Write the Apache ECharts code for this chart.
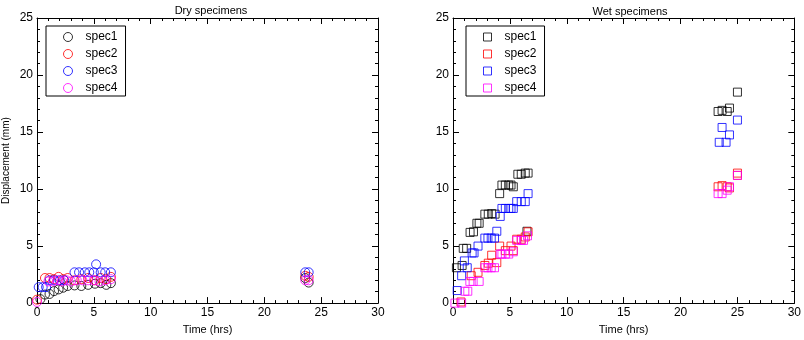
<!DOCTYPE html>
<html>
<head>
<meta charset="utf-8">
<script src="https://cdn.jsdelivr.net/npm/echarts@6/dist/echarts.min.js"></script>
<style>html,body{margin:0;padding:0;background:#fff}#c{width:804px;height:340px}</style>
</head>
<body>
<div id="c"></div>
<script>
// Dry specimens: time (hrs) and displacement (mm) per specimen
const dryT1 = [0.3, 0.7, 1.1, 1.5, 1.9, 2.3, 2.7, 3.3, 3.9, 4.5, 5.1, 5.6, 6.1, 6.5, 23.6, 23.9];
const dryV1 = [0.35, 0.75, 0.8, 1.05, 1.2, 1.35, 1.5, 1.55, 1.5, 1.6, 1.7, 1.75, 1.6, 1.75, 2.2, 1.8];
const dryT2 = [0.0, 0.7, 1.1, 1.5, 1.9, 2.3, 2.7, 3.3, 3.9, 4.5, 5.1, 5.6, 6.1, 6.5, 23.6, 23.9];
const dryV2 = [0.3, 2.2, 2.2, 2.1, 2.3, 2.1, 2.2, 2.0, 2.1, 2.2, 2.0, 2.2, 2.1, 2.3, 2.4, 2.3];
const dryT3 = [0.15, 0.5, 0.8, 1.1, 1.5, 2.0, 2.4, 3.3, 3.7, 4.2, 4.6, 5.0, 5.2, 5.6, 6.0, 6.5, 23.6, 23.9];
const dryV3 = [1.4, 1.4, 1.4, 2.0, 2.0, 2.0, 2.0, 2.7, 2.7, 2.7, 2.7, 2.7, 3.4, 2.7, 2.7, 2.7, 2.7, 2.7];
const dryT4 = [0.0, 1.0, 1.4, 1.8, 2.2, 2.6, 3.0, 3.5, 4.0, 4.5, 5.0, 5.5, 6.0, 6.5, 23.6, 23.9];
const dryV4 = [0.1, 1.9, 1.9, 2.0, 1.9, 2.0, 1.9, 2.0, 2.0, 2.0, 2.0, 1.9, 2.0, 2.1, 2.0, 2.0];

// Wet specimens
const wetT1 = [0.3, 0.8, 0.9, 1.2, 1.5, 1.8, 2.1, 2.3, 2.8, 3.1, 3.4, 3.7, 4.1, 4.3, 4.6, 4.9, 5.1, 5.3, 5.7, 6.0, 6.35, 6.6, 6.5, 23.3, 23.65, 24.1, 24.3, 25.0];
const wetV1 = [3.1, 3.3, 4.8, 4.8, 6.2, 6.25, 7.0, 7.0, 7.8, 7.8, 7.85, 7.8, 9.6, 10.35, 10.35, 10.35, 10.35, 10.2, 11.3, 11.3, 11.4, 11.4, 6.3, 16.8, 16.9, 16.8, 17.1, 18.5];
const wetT2 = [0.7, 1.6, 2.2, 2.8, 3.1, 3.4, 3.85, 4.1, 4.6, 5.1, 5.3, 5.6, 6.0, 6.35, 6.6, 23.3, 23.65, 24.1, 24.3, 25.0, 25.0];
const wetV2 = [0.1, 2.4, 2.7, 3.3, 3.5, 4.2, 3.55, 5.0, 4.6, 5.0, 4.6, 5.6, 5.6, 5.8, 6.25, 10.2, 10.3, 10.2, 10.1, 11.4, 11.2];
const wetT3 = [0.37, 0.76, 1.0, 1.25, 1.68, 1.85, 2.2, 2.8, 3.07, 3.36, 3.65, 3.85, 4.15, 4.3, 4.6, 4.9, 5.1, 5.3, 5.6, 6.0, 6.35, 6.6, 23.4, 23.65, 24.0, 24.3, 25.0];
const wetV3 = [1.1, 2.4, 3.7, 3.1, 4.4, 4.4, 5.0, 5.7, 5.7, 5.7, 5.7, 6.3, 7.6, 8.3, 8.3, 8.3, 8.3, 8.3, 8.9, 8.9, 8.9, 9.6, 14.1, 15.4, 14.1, 14.75, 16.05];
const wetT4 = [0.17, 0.76, 1.04, 1.3, 1.48, 1.77, 2.3, 2.8, 3.07, 3.36, 3.65, 4.15, 4.3, 4.6, 4.9, 5.3, 5.6, 6.0, 6.2, 6.55, 23.3, 23.65, 24.1, 24.3, 25.0];
const wetV4 = [0.0, 0.0, 1.04, 1.04, 1.9, 1.9, 1.9, 3.1, 3.1, 3.1, 3.1, 4.3, 4.3, 4.3, 4.3, 4.5, 5.5, 5.5, 5.5, 5.9, 9.6, 9.6, 9.9, 10.2, 11.2];

const names = ['spec1', 'spec2', 'spec3', 'spec4'];
const colors = ['#000000', '#ff0000', '#0000ff', '#ff00ff'];
const xTicks = [0, 5, 10, 15, 20, 25, 30];
const yTicks = [0, 5, 10, 15, 20, 25];

const dryT = [dryT1, dryT2, dryT3, dryT4];
const dryV = [dryV1, dryV2, dryV3, dryV4];
const wetT = [wetT1, wetT2, wetT3, wetT4];
const wetV = [wetV1, wetV2, wetV3, wetV4];

const FONT = 'Liberation Sans';
const pairs = (t, v) => t.map((x, i) => [x, v[i]]);

function xAx(gi, pos, show) {
  return {
    gridIndex: gi, type: 'value', position: pos,
    min: xTicks[0], max: xTicks[xTicks.length - 1], interval: 5,
    name: show ? 'Time (hrs)' : '', nameLocation: 'middle', nameGap: 18,
    nameTextStyle: { color: '#000', fontSize: 11, fontFamily: FONT },
    axisLine: { show: true, onZero: false, lineStyle: { color: '#000', width: 1 } },
    axisTick: { show: true, inside: true, length: 6, lineStyle: { color: '#000' } },
    minorTick: { show: true, splitNumber: 5, length: 3, lineStyle: { color: '#000' } },
    axisLabel: { show: show, color: '#000', fontSize: 12, fontFamily: FONT, margin: 4 },
    splitLine: { show: false }
  };
}
function yAx(gi, pos, show, named) {
  return {
    gridIndex: gi, type: 'value', position: pos,
    min: yTicks[0], max: yTicks[yTicks.length - 1], interval: 5,
    name: named ? 'Displacement (mm)' : '', nameLocation: 'middle', nameGap: 26,
    nameTextStyle: { color: '#000', fontSize: 10, fontFamily: FONT },
    axisLine: { show: true, onZero: false, lineStyle: { color: '#000', width: 1 } },
    axisTick: { show: true, inside: true, length: 6, lineStyle: { color: '#000' } },
    minorTick: { show: true, splitNumber: 5, length: 3, lineStyle: { color: '#000' } },
    axisLabel: { show: show, color: '#000', fontSize: 12, fontFamily: FONT, margin: 4 },
    splitLine: { show: false }
  };
}

const series = [];
for (let k = 0; k < 4; k++) {
  series.push({
    name: names[k], type: 'scatter', xAxisIndex: 0, yAxisIndex: 0,
    symbol: 'circle', symbolSize: 9,
    itemStyle: { color: 'rgba(0,0,0,0)', borderColor: colors[k], borderWidth: 1 },
    data: pairs(dryT[k], dryV[k]), animation: false
  });
}
for (let k = 0; k < 4; k++) {
  series.push({
    name: 'w' + names[k], type: 'scatter', xAxisIndex: 2, yAxisIndex: 2,
    symbol: 'rect', symbolSize: 8,
    itemStyle: { color: 'rgba(0,0,0,0)', borderColor: colors[k], borderWidth: 1 },
    data: pairs(wetT[k], wetV[k]), animation: false
  });
}

function legend(left, prefix, icon, size) {
  return {
    left: left, top: 26, orient: 'vertical',
    data: names.map((n, k) => ({
      name: prefix + n, icon: icon,
      itemStyle: { color: 'rgba(0,0,0,0)', borderColor: colors[k], borderWidth: 1 }
    })),
    formatter: n => n.replace(/^w/, ''),
    itemWidth: size, itemHeight: size, itemGap: 5,
    padding: [5, 8, 2, 17],
    borderColor: '#000', borderWidth: 1,
    textStyle: { color: '#000', fontSize: 12, fontFamily: FONT, padding: [0, 0, 0, 8] },
    selectedMode: false
  };
}

const chart = echarts.init(document.getElementById('c'), null, { renderer: 'canvas' });
chart.setOption({
  animation: false,
  backgroundColor: '#fff',
  title: [
    { text: 'Dry specimens', left: 206, top: 0, textAlign: 'center',
      textStyle: { fontSize: 11, fontWeight: 'normal', color: '#000', fontFamily: FONT } },
    { text: 'Wet specimens', left: 625, top: 1, textAlign: 'center',
      textStyle: { fontSize: 11, fontWeight: 'normal', color: '#000', fontFamily: FONT } }
  ],
  grid: [
    { left: 34, top: 18, width: 344, height: 288 },
    { left: 453, top: 18, width: 345, height: 288 }
  ],
  xAxis: [xAx(0, 'bottom', true), xAx(0, 'top', false), xAx(1, 'bottom', true), xAx(1, 'top', false)],
  yAxis: [yAx(0, 'left', true, true), yAx(0, 'right', false, false), yAx(1, 'left', true, false), yAx(1, 'right', false, false)],
  legend: [legend(46, '', 'circle', 9), legend(466, 'w', 'rect', 8)],
  series: series
});
</script>
</body>
</html>
